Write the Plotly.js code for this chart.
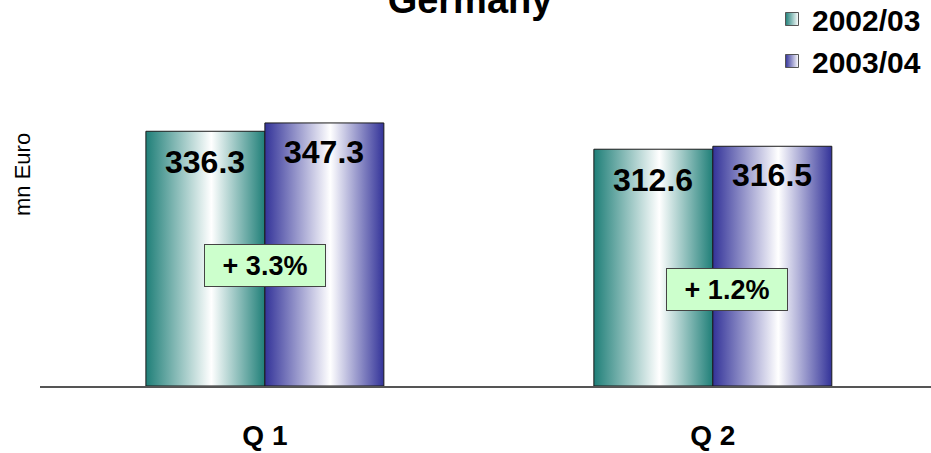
<!DOCTYPE html>
<html>
<head>
<meta charset="utf-8">
<script src="https://cdn.plot.ly/plotly-3.0.1.min.js"></script>
<style>html,body{margin:0;padding:0;background:#fff;} #chart{width:931px;height:453px;}</style>
</head>
<body>
<div id="chart"></div>
<script>
// ---- data ----
const categories = ['Q 1', 'Q 2'];
const seriesNames = ['2002/03', '2003/04'];
const values2002 = [336.3, 312.6];
const values2003 = [347.3, 316.5];
const chartTitle = 'Germany';
const unitLabel = 'mn Euro';

// ---- styling ----
const FONT = 'Liberation Sans, Arial, Helvetica, sans-serif';
const TEAL = '#1f7f78';
const NAVY = '#333399';
const halfW = 0.2656; // bar width in category units
const catX = categories.map((c, i) => i);

function barTrace(xc, side, v, color, name) {
  const x0 = side < 0 ? xc - halfW : xc;
  const x1 = side < 0 ? xc : xc + halfW;
  return {
    type: 'scatter', mode: 'lines', name: name, showlegend: false,
    x: [x0, x0, x1, x1, x0], y: [0, v, v, 0, 0],
    fill: 'toself',
    fillgradient: {type: 'horizontal', colorscale: [[0, color], [0.55, '#ffffff'], [1, color]]},
    line: {color: '#1a1a1a', width: 1},
    hoverinfo: 'skip'
  };
}

const traces = [];
catX.forEach((xc, i) => {
  traces.push(barTrace(xc, -1, values2002[i], TEAL, seriesNames[0]));
  traces.push(barTrace(xc, 1, values2003[i], NAVY, seriesNames[1]));
});
// legend entries
[[seriesNames[0], TEAL], [seriesNames[1], NAVY]].forEach(([n, c]) => {
  traces.push({
    type: 'scatter', mode: 'markers', name: n, x: [null], y: [null],
    marker: {symbol: 'square', size: 13, color: c, gradient: {type: 'horizontal', color: '#ffffff'},
             line: {color: '#555', width: 1}}
  });
});

const annotations = [];
catX.forEach((xc, i) => {
  annotations.push({x: xc - halfW / 2, y: values2002[i], xref: 'x', yref: 'y', text: values2002[i].toFixed(1),
    showarrow: false, yanchor: 'middle', yshift: -31, font: {family: FONT, size: 32, color: '#000', weight: 'bold'}});
  annotations.push({x: xc + halfW / 2, y: values2003[i], xref: 'x', yref: 'y', text: values2003[i].toFixed(1),
    showarrow: false, yanchor: 'middle', yshift: -29, font: {family: FONT, size: 32, color: '#000', weight: 'bold'}});
  const g = (values2003[i] / values2002[i] - 1) * 100;
  annotations.push({x: xc + (i === 0 ? 0 : 0.031), y: i === 0 ? 159 : 127, xref: 'x', yref: 'y',
    text: '+ ' + g.toFixed(1) + '%', showarrow: false,
    bgcolor: '#ccffcc', bordercolor: '#444', borderwidth: 1, borderpad: 0, width: 120, height: 41,
    font: {family: FONT, size: 27, color: '#000', weight: 'bold'}});
});
annotations.push({x: (22 - 40) / 891, xref: 'paper', y: 0.6895, yref: 'paper', text: unitLabel, textangle: -90,
  showarrow: false, xanchor: 'center', yanchor: 'middle', font: {family: FONT, size: 22, color: '#000'}});

const layout = {
  width: 931, height: 453,
  margin: {l: 40, r: 0, t: 80, b: 67, autoexpand: false},
  paper_bgcolor: '#fff', plot_bgcolor: '#fff',
  title: {text: chartTitle, x: 470 / 931, xref: 'container', xanchor: 'center', y: 1, yref: 'container', yanchor: 'middle',
    font: {family: FONT, size: 38, color: '#000', weight: 'bold'}, automargin: false},
  xaxis: {range: [-0.502, 1.487], tickvals: catX, ticktext: categories, showline: true, linecolor: '#555', linewidth: 2,
    ticks: '', showgrid: false, zeroline: false, ticklabelstandoff: 23, automargin: false,
    tickfont: {family: FONT, size: 28, color: '#000', weight: 'bold'}, fixedrange: true},
  yaxis: {range: [0, 404], showgrid: false, zeroline: false, showticklabels: false, ticks: '', showline: false,
    fixedrange: true, automargin: false},
  showlegend: true,
  legend: {x: (772 - 40) / 891, xref: 'paper', xanchor: 'left', y: 1 + 87 / 306, yref: 'paper', yanchor: 'top',
    font: {family: FONT, size: 30, color: '#000', weight: 'bold'}, bgcolor: 'rgba(0,0,0,0)', tracegroupgap: 0},
  annotations: annotations
};

Plotly.newPlot('chart', traces, layout, {displayModeBar: false, staticPlot: true});
</script>
</body>
</html>
